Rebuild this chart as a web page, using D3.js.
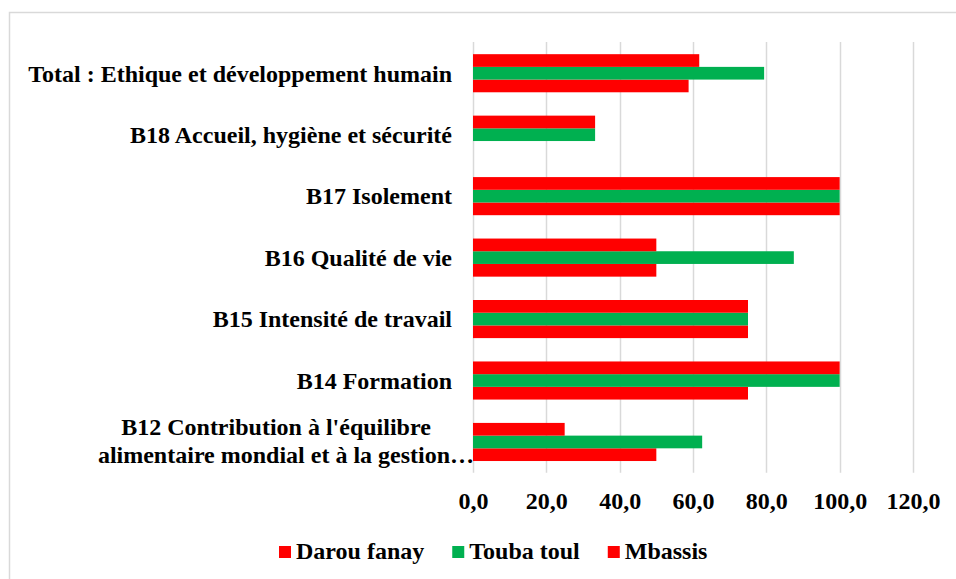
<!DOCTYPE html>
<html>
<head>
<meta charset="utf-8">
<script src="https://cdn.jsdelivr.net/npm/d3@7"></script>
<style>
  body { margin: 0; background: #fff; }
  text { font-family: 'Liberation Serif', 'Times New Roman', serif; font-weight: bold; fill: #000; }
</style>
</head>
<body>
<script>
// Categories, top to bottom
const categories = [
  'Total : Ethique et développement humain',
  'B18 Accueil, hygiène et sécurité',
  'B17 Isolement',
  'B16 Qualité de vie',
  'B15 Intensité de travail',
  'B14 Formation',
  "B12 Contribution à l'équilibre\nalimentaire mondial et à la gestion…"
];

// Series (legend order)
const seriesNames = ['Darou fanay', 'Touba toul', 'Mbassis'];
const seriesColors = ['#ff0000', '#00b050', '#ff0000'];

const darouFanay = [58.8, 0, 100, 50, 75, 75, 50];
const toubaToul = [79.4, 33.3, 100, 87.5, 75, 100, 62.5];
const mbassis = [61.7, 33.3, 100, 50, 75, 100, 25];

const tickValues = [0, 20, 40, 60, 80, 100, 120];

const seriesValues = [darouFanay, toubaToul, mbassis];

// Width and height
const w = 956;
const h = 579;
const fontSize = 24;

const svg = d3
  .select('body')
  .append('svg')
  .attr('width', w)
  .attr('height', h);

// Chart border
svg
  .append('rect')
  .attr('x', 9.5)
  .attr('y', 12.5)
  .attr('width', w + 20)
  .attr('height', h + 20)
  .attr('fill', 'none')
  .attr('stroke', '#d9d9d9')
  .attr('stroke-width', 1.5);

const xScale = d3
  .scaleLinear()
  .domain([0, 120])
  .range([473, 913]);

const yScale = d3
  .scaleBand()
  .domain(categories)
  .range([42.5, 472.7])
  .paddingInner(0.38)
  .paddingOuter(0.19);

// Within a group: last series on top, first series at bottom (Excel order)
const yInner = d3
  .scaleBand()
  .domain([2, 1, 0])
  .range([0, yScale.bandwidth()]);

const fmt = v => d3.format('.1f')(v).replace('.', ',');

// Gridlines
svg
  .append('g')
  .attr('class', 'grid')
  .selectAll('line')
  .data(tickValues)
  .enter()
  .append('line')
  .attr('x1', d => Math.round(xScale(d)) + 0.5)
  .attr('x2', d => Math.round(xScale(d)) + 0.5)
  .attr('y1', 42)
  .attr('y2', 472.7)
  .attr('stroke', '#d9d9d9')
  .attr('stroke-width', 1.5);

// X axis
const xAxis = d3
  .axisBottom(xScale)
  .tickValues(tickValues)
  .tickFormat(fmt)
  .tickSize(0)
  .tickPadding(19);

const gx = svg
  .append('g')
  .attr('class', 'x axis')
  .attr('transform', 'translate(0,472.7)')
  .call(xAxis);
gx.select('.domain').remove();
gx.attr('font-family', null).attr('font-size', null);
gx.selectAll('text').attr('font-size', fontSize);

// Bars
const groups = svg
  .append('g')
  .attr('class', 'bars')
  .selectAll('g')
  .data(categories)
  .enter()
  .append('g')
  .attr('transform', d => 'translate(0,' + yScale(d) + ')');

groups
  .selectAll('rect')
  .data((d, i) => seriesValues.map((vals, s) => ({ s: s, v: vals[i] })))
  .enter()
  .filter(d => d.v > 0)
  .append('rect')
  .attr('x', xScale(0))
  .attr('y', d => yInner(d.s))
  .attr('width', d => xScale(d.v) - xScale(0))
  .attr('height', yInner.bandwidth())
  .attr('fill', d => seriesColors[d.s]);

// Category labels
svg
  .append('g')
  .attr('class', 'y labels')
  .selectAll('text')
  .data(categories)
  .enter()
  .append('text')
  .attr('font-size', fontSize)
  .each(function(d) {
    const lines = d.split('\n');
    const t = d3.select(this);
    const cy = yScale(d) + yScale.bandwidth() / 2;
    if (lines.length === 1) {
      t.attr('text-anchor', 'end')
        .attr('x', 452)
        .attr('y', cy + 8.3)
        .text(d);
    } else {
      t.attr('text-anchor', 'middle');
      lines.forEach((line, k) => {
        t.append('tspan')
          .attr('x', 281 + (k === 0 ? -5 : 5))
          .attr('y', cy - 7 + k * 28)
          .text(line);
      });
    }
  });

// Legend
const legend = svg.append('g').attr('class', 'legend');
let lx = 279;
seriesNames.forEach((name, i) => {
  legend
    .append('rect')
    .attr('x', lx)
    .attr('y', 546)
    .attr('width', 12)
    .attr('height', 12)
    .attr('fill', seriesColors[i]);
  const t = legend
    .append('text')
    .attr('x', lx + 17)
    .attr('y', 559)
    .attr('font-size', fontSize)
    .text(name);
  lx += 17 + t.node().getComputedTextLength() + 28;
});
</script>
</body>
</html>
